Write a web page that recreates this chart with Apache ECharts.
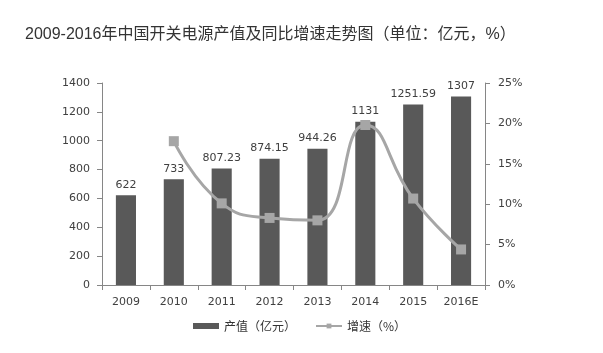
<!DOCTYPE html>
<html><head><meta charset="utf-8">
<script src="https://cdn.jsdelivr.net/npm/echarts@6/dist/echarts.min.js"></script>
<style>html,body{margin:0;padding:0;background:#fff}#c{width:603px;height:353px}</style>
</head><body><div id="c"></div>
<script>
const title = '2009-2016年中国开关电源产值及同比增速走势图（单位：亿元，%）';
const categories = ['2009','2010','2011','2012','2013','2014','2015','2016E'];
const outputValues = [622, 733, 807.23, 874.15, 944.26, 1131, 1251.59, 1307];
const growthRates = [null, 17.8, 10.1, 8.3, 8.0, 19.8, 10.7, 4.4];
const leftTicks = {min: 0, max: 1400, interval: 200};
const rightTicks = {min: 0, max: 25, interval: 5};

const chart = echarts.init(document.getElementById('c'));
const txt = '#404040';
const numFont = 'Verdana, "DejaVu Sans", sans-serif';
chart.setOption({
  animation: false,
  title: {text: title, left: 20, top: 22, textStyle: {fontSize: 16, fontWeight: 'normal', color: '#333', fontFamily: 'Arial, "Noto Sans CJK SC", sans-serif'}},
  legend: {
    bottom: 16, left: 188, itemGap: 19, itemWidth: 26, itemHeight: 6,
    textStyle: {fontSize: 12, color: '#333', fontFamily: '"Noto Sans CJK SC", sans-serif'},
    data: [
      {name: '产值（亿元）', icon: 'rect'},
      {name: '增速（%）'}
    ]
  },
  grid: {left: 102, right: 118, top: 83, bottom: 68},
  xAxis: {
    type: 'category', data: categories,
    axisLine: {lineStyle: {color: '#868686'}},
    axisTick: {show: true, length: 5, lineStyle: {color: '#868686'}},
    axisLabel: {color: txt, fontSize: 11, margin: 12, fontFamily: numFont}
  },
  yAxis: [
    {type: 'value', min: leftTicks.min, max: leftTicks.max, interval: leftTicks.interval,
     axisLine: {show: true, lineStyle: {color: '#868686'}},
     axisTick: {show: true, length: 5, lineStyle: {color: '#868686'}},
     splitLine: {show: false},
     axisLabel: {color: txt, fontSize: 11, margin: 12, formatter: v => String(v), fontFamily: numFont}},
    {type: 'value', min: rightTicks.min, max: rightTicks.max, interval: rightTicks.interval, position: 'right',
     axisLine: {show: true, lineStyle: {color: '#868686'}},
     axisTick: {show: true, length: 5, lineStyle: {color: '#868686'}},
     splitLine: {show: false},
     axisLabel: {color: txt, fontSize: 11, margin: 13, formatter: '{value}%', fontFamily: numFont}}
  ],
  series: [
    {name: '产值（亿元）', type: 'bar', data: outputValues, barWidth: '42%',
     itemStyle: {color: '#595959'},
     label: {show: true, position: 'top', distance: 5, color: txt, fontSize: 11, fontFamily: numFont}},
    {name: '增速（%）', type: 'line', yAxisIndex: 1, data: growthRates, smooth: 0.5,
     symbol: 'rect', symbolSize: 10,
     lineStyle: {color: '#a6a6a6', width: 3},
     itemStyle: {color: '#a6a6a6'}}
  ]
});
</script></body></html>
